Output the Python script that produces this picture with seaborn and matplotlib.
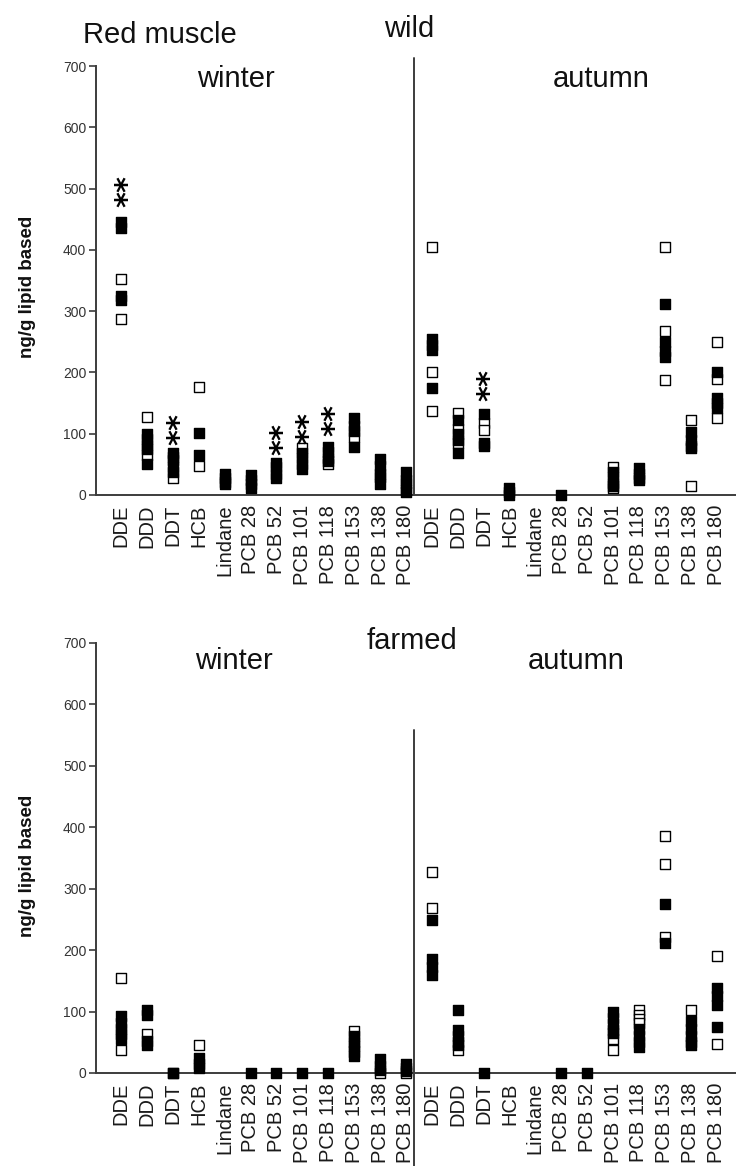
import matplotlib
matplotlib.use("Agg")
import matplotlib.pyplot as plt
import pandas as pd
import seaborn as sns

# Compounds measured (same order in both seasons)
compounds = ["DDE", "DDD", "DDT", "HCB", "Lindane", "PCB 28", "PCB 52",
             "PCB 101", "PCB 118", "PCB 153", "PCB 138", "PCB 180"]
seasons = ["winter", "autumn"]

# Wild fish, red muscle, ng/g lipid based: one list of individual values per compound
wild_winter_open = [[352, 287], [127, 65], [28, 57], [176, 48], [], [],
                    [], [76], [50], [94], [35], [25]]
wild_winter_filled = [[445, 435, 325, 318], [100, 92, 82, 75, 50], [68, 62, 45, 38],
                      [101, 66], [35, 28, 22, 18], [32, 25, 18, 12], [52, 45, 35, 28],
                      [68, 60, 50, 43], [78, 70, 60, 55], [125, 112, 105, 78],
                      [58, 48, 30, 18], [38, 20, 8, 5]]
wild_autumn_open = [[404, 200, 137], [133, 108, 85], [118, 106], [], [], [],
                    [], [46, 12], [], [404, 267, 188], [122, 15], [249, 190, 125]]
wild_autumn_filled = [[255, 245, 236, 175], [122, 100, 90, 68], [132, 85, 80],
                      [12, 5, 0], [], [0], [], [38, 30, 20, 14], [44, 35, 28, 24],
                      [312, 250, 235, 225], [103, 90, 80, 77], [200, 158, 150, 142]]

# Farmed fish
farmed_winter_open = [[155, 37], [64], [], [45], [], [], [], [], [],
                      [68, 44], [0], [0]]
farmed_winter_filled = [[92, 82, 72, 63, 55], [103, 95, 52, 46], [0, 0], [25, 15, 8],
                        [], [0], [0], [0], [0], [60, 50, 35, 27], [22, 12, 5],
                        [15, 8, 3]]
farmed_autumn_open = [[328, 269], [38], [], [], [], [], [], [55, 38],
                      [102, 95, 88, 82], [386, 340, 222], [103], [190, 48]]
farmed_autumn_filled = [[249, 185, 172, 160], [103, 70, 60, 50, 45], [0], [], [],
                        [0], [0], [100, 90, 80, 70, 65], [72, 60, 50, 42],
                        [275, 212], [85, 72, 60, 50, 45], [138, 125, 110, 75]]

# Significant differences (**): (season, compound, value of the lower star)
wild_stars = [("winter", "DDE", 483), ("winter", "DDT", 94), ("winter", "PCB 52", 78),
              ("winter", "PCB 101", 95), ("winter", "PCB 118", 108),
              ("autumn", "DDT", 166)]
farmed_stars = []

y_ticks = [0, 100, 200, 300, 400, 500, 600, 700]
y_label = "ng/g lipid based"

sns.set_theme(style="white")
plt.rcParams["font.family"] = ["Liberation Sans", "DejaVu Sans"]

W, H = 736, 1166
fig = plt.figure(figsize=(W / 100, H / 100), dpi=100)
AX_COL = "#3c3c3c"
STAR_FS = 22


def frame(w_open, w_filled, a_open, a_filled):
    rows = []
    for s_idx, (op, fi) in enumerate([(w_open, w_filled), (a_open, a_filled)]):
        for c_idx in range(len(compounds)):
            pos = s_idx * len(compounds) + c_idx
            rows += [(pos, v, "open") for v in op[c_idx]]
            rows += [(pos, v, "filled") for v in fi[c_idx]]
    return pd.DataFrame(rows, columns=["pos", "value", "group"])


def px_box(top, bottom):
    left = 96
    return [left / W, 1 - bottom / H, (W - left) / W, (bottom - top) / H]


def draw_panel(ax, df, stars, div_top, div_bottom):
    sns.scatterplot(data=df, x="pos", y="value", hue="group",
                    hue_order=["open", "filled"],
                    palette={"open": "white", "filled": "black"},
                    marker="s", s=52, edgecolor="black", linewidth=1.0,
                    legend=False, ax=ax, clip_on=False, zorder=3)
    # "**" written along the vertical: one star stacked above the other
    for season, comp, v in stars:
        pos = seasons.index(season) * len(compounds) + compounds.index(comp)
        ax.annotate("**", xy=(pos, v),
                    xytext=(0.49 * STAR_FS, -0.25 * STAR_FS),
                    textcoords="offset points", ha="left", va="baseline",
                    rotation=90, rotation_mode="anchor",
                    fontsize=STAR_FS, fontweight="bold", color="black",
                    family="DejaVu Sans", annotation_clip=False)
    n = len(compounds) * len(seasons)
    ax.set_xlim(-0.97, n - 0.25)
    ax.set_ylim(0, 700)
    ax.set_yticks(y_ticks)
    ax.set_yticklabels([str(t) for t in y_ticks], fontsize=10, color="#333333")
    ax.set_xticks(range(n))
    ax.set_xticklabels(compounds * len(seasons), rotation=90, fontsize=14.5,
                       color="#1a1a1a")
    ax.tick_params(axis="x", length=0, pad=7)
    ax.tick_params(axis="y", length=5, width=1.2, color=AX_COL, pad=2, left=True)
    ax.set_xlabel("")
    ax.set_ylabel("")
    sns.despine(ax=ax)
    for side in ("left", "bottom"):
        ax.spines[side].set_color(AX_COL)
        ax.spines[side].set_linewidth(1.4)
    xd = len(compounds) - 0.7
    ax.plot([xd, xd], [div_bottom, div_top], color=AX_COL, lw=1.4,
            clip_on=False, zorder=2)


ax_top = fig.add_axes(px_box(66, 495))
draw_panel(ax_top, frame(wild_winter_open, wild_winter_filled,
                         wild_autumn_open, wild_autumn_filled),
           wild_stars, 713, 0)

ax_bot = fig.add_axes(px_box(643, 1073))
draw_panel(ax_bot, frame(farmed_winter_open, farmed_winter_filled,
                         farmed_autumn_open, farmed_autumn_filled),
           farmed_stars, 559, -155)


def ftext(x, y, s, **kw):
    fig.text(x / W, 1 - y / H, s, **kw)


title_kw = dict(fontsize=21, color="#111111", va="baseline")
ftext(83, 43, "Red muscle", ha="left", **title_kw)
ftext(409, 37, "wild", ha="center", **title_kw)
ftext(236, 87, "winter", ha="center", **title_kw)
ftext(601, 87, "autumn", ha="center", **title_kw)
ftext(412, 649, "farmed", ha="center", **title_kw)
ftext(234, 669, "winter", ha="center", **title_kw)
ftext(576, 669, "autumn", ha="center", **title_kw)

ylab_kw = dict(fontsize=13.5, fontweight="bold", rotation=90, ha="center",
               va="center", color="#111111")
ftext(28, 287, y_label, **ylab_kw)
ftext(28, 866, y_label, **ylab_kw)

fig.savefig("out.png", dpi=100, facecolor="white")
